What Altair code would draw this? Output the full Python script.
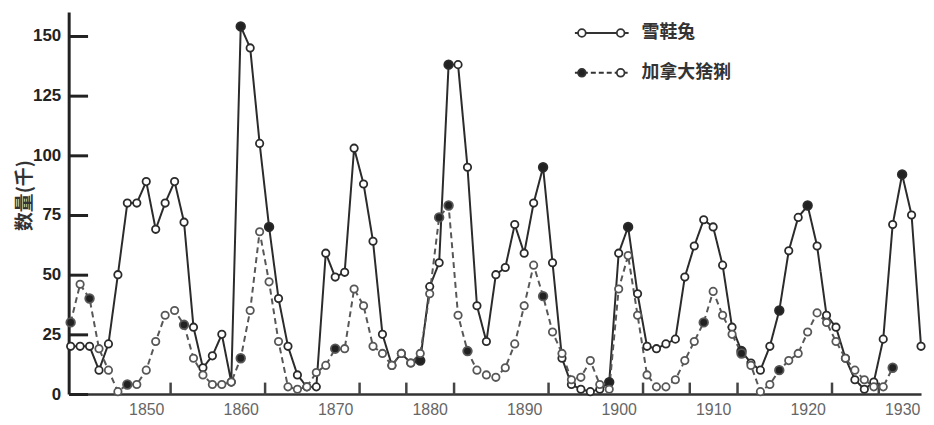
import altair as alt
import pandas as pd

# ---- data (thousands) ----
hare_years = list(range(1842, 1933))
hare_values = [20, 20, 20, 10, 21, 50, 80, 80, 89, 69,
               80, 89, 72, 28, 11, 16, 25, 5, 154, 145,
               105, 70, 40, 20, 8, 3, 3, 59, 49, 51,
               103, 88, 64, 25, 12, 17, 13, 14, 45, 55,
               138, 138, 95, 37, 22, 50, 53, 71, 59, 80,
               95, 55, 15, 4, 2, 1, 2, 5, 59, 70,
               42, 20, 19, 21, 23, 49, 62, 73, 70, 54,
               28, 18, 13, 10, 20, 35, 60, 74, 79, 62,
               33, 28, 15, 6, 2, 5, 23, 71, 92, 75,
               20]
hare_filled = [1860, 1863, 1879, 1882, 1892, 1899, 1901, 1913, 1917, 1920, 1930]

lynx_years = list(range(1842, 1930))
lynx_values = [30, 46, 40, 19, 10, 1, 4, 4, 10, 22,
               33, 35, 29, 15, 8, 4, 4, 5, 15, 35,
               68, 47, 22, 3, 2, 3, 9, 12, 19, 19,
               44, 37, 20, 17, 12, 17, 13, 17, 42, 74,
               79, 33, 18, 10, 8, 7, 11, 21, 37, 54,
               41, 26, 17, 6, 7, 14, 4, 2, 44, 58,
               33, 8, 3, 3, 6, 14, 22, 30, 43, 33,
               25, 17, 12, 1, 4, 10, 14, 17, 26, 34,
               30, 22, 15, 10, 6, 3, 3, 11]
lynx_filled = [1842, 1844, 1848, 1854, 1860, 1870, 1881, 1882, 1884, 1892, 1909, 1913, 1917, 1929]

series_names = ["雪鞋兔", "加拿大猞猁"]
series_colors = ["#2b2b2b", "#575757"]
y_tick_values = [0, 25, 50, 75, 100, 125, 150]
x_label_years = [1850, 1860, 1870, 1880, 1890, 1900, 1910, 1920, 1930]
x_tick_marks = [1852.5, 1862.5, 1872.5, 1877.5, 1882.5, 1892.5,
                1902.5, 1907.5, 1912.5, 1922.5, 1927.5]

rows = []
for yr, v in zip(hare_years, hare_values):
    rows.append({"year": yr, "value": v, "series": series_names[0], "filled": yr in hare_filled})
for yr, v in zip(lynx_years, lynx_values):
    rows.append({"year": yr, "value": v, "series": series_names[1], "filled": yr in lynx_filled})
df = pd.DataFrame(rows)
tick_df = pd.DataFrame({"t": x_tick_marks, "v": [0] * len(x_tick_marks)})

W, H = 857, 384
xscale = alt.Scale(domain=[1841.79, 1932.0], nice=False, zero=False)
yscale = alt.Scale(domain=[0, 160], nice=False, zero=False)

x_axis = alt.Axis(values=x_label_years, format="d", title=None, orient="bottom",
                  ticks=False, grid=False, labelFontSize=16, labelColor="#666666",
                  labelFont="Liberation Sans", labelPadding=8,
                  domainColor="#333333", domainWidth=2.5)
y_axis = alt.Axis(values=y_tick_values, title="数量(千)", orient="left", ticks=False, grid=False,
                  labelFontSize=17, labelFontWeight="bold", labelFont="Liberation Sans",
                  labelColor="#222222", labelPadding=8,
                  domainColor="#222222", domainWidth=3,
                  titleFont="Noto Sans CJK SC", titleFontSize=19, titleFontWeight="bold",
                  titleColor="#333333", titleX=-44, titleY=184, titleAngle=270,
                  titleAlign="center", titleBaseline="middle")

color_scale = alt.Scale(domain=series_names, range=series_colors)

lines = alt.Chart(df).mark_line(strokeWidth=2).encode(
    x=alt.X("year:Q", scale=xscale, axis=x_axis),
    y=alt.Y("value:Q", scale=yscale, axis=y_axis),
    strokeDash=alt.StrokeDash("series:N",
                              scale=alt.Scale(domain=series_names, range=[[1, 0], [6, 4]]),
                              legend=None),
    color=alt.Color("series:N", scale=color_scale, legend=None),
    order="year:Q",
)

points = alt.Chart(df).mark_point(filled=True, strokeWidth=1.8, opacity=1).encode(
    x=alt.X("year:Q", scale=xscale, axis=x_axis),
    y=alt.Y("value:Q", scale=yscale, axis=y_axis),
    fill=alt.condition("datum.filled", alt.value("#222222"), alt.value("white")),
    stroke=alt.Stroke("series:N", scale=color_scale, legend=None),
    size=alt.condition("datum.filled", alt.value(75), alt.value(55)),
)


def legend_row(name, ypix, dashed, first_fill):
    base = alt.Chart(pd.DataFrame({"label": [name]}))
    rule_kw = {"strokeWidth": 2, "color": "#333333"}
    if dashed:
        rule_kw["strokeDash"] = [5, 3]
    seg = base.mark_rule(**rule_kw).encode(
        x=alt.value(509), x2=alt.value(563), y=alt.value(ypix))
    c1 = base.mark_point(filled=True, size=60, strokeWidth=1.8, stroke="#333333",
                         fill=first_fill, opacity=1).encode(x=alt.value(516), y=alt.value(ypix))
    c2 = base.mark_point(filled=True, size=60, strokeWidth=1.8, stroke="#333333",
                         fill="white", opacity=1).encode(x=alt.value(555), y=alt.value(ypix))
    txt = base.mark_text(align="left", baseline="middle", font="Noto Sans CJK SC",
                         fontSize=18, fontWeight="bold", color="#333333").encode(
        x=alt.value(576), y=alt.value(ypix), text="label:N")
    return [seg, c1, c2, txt]


legend_marks = legend_row(series_names[0], 21, False, "white") + \
    legend_row(series_names[1], 61, True, "#222222")

ticks_layer = alt.Chart(tick_df).mark_point(opacity=0).encode(
    x=alt.X("t:Q", scale=xscale,
            axis=alt.Axis(orient="top", offset=-H, values=x_tick_marks, labels=False,
                          domain=False, ticks=True, tickSize=12, tickWidth=2.5,
                          tickColor="#444444", title=None, grid=False)),
    y=alt.Y("v:Q", scale=yscale,
            axis=alt.Axis(orient="right", offset=-W, values=y_tick_values, labels=False,
                          domain=False, ticks=True, tickSize=19, tickWidth=3,
                          tickColor="#222222", title=None, grid=False)),
)

chart = alt.layer(alt.layer(lines, points, *legend_marks), ticks_layer).resolve_scale(
    x="independent", y="independent"
).properties(
    width=W, height=H,
    autosize=alt.AutoSizeParams(type="none"),
    padding={"left": 61, "top": 3, "right": 5, "bottom": 30},
    background="white",
).configure_view(stroke=None)

chart.save("out.html", embed_options={"renderer": "svg", "actions": False})
